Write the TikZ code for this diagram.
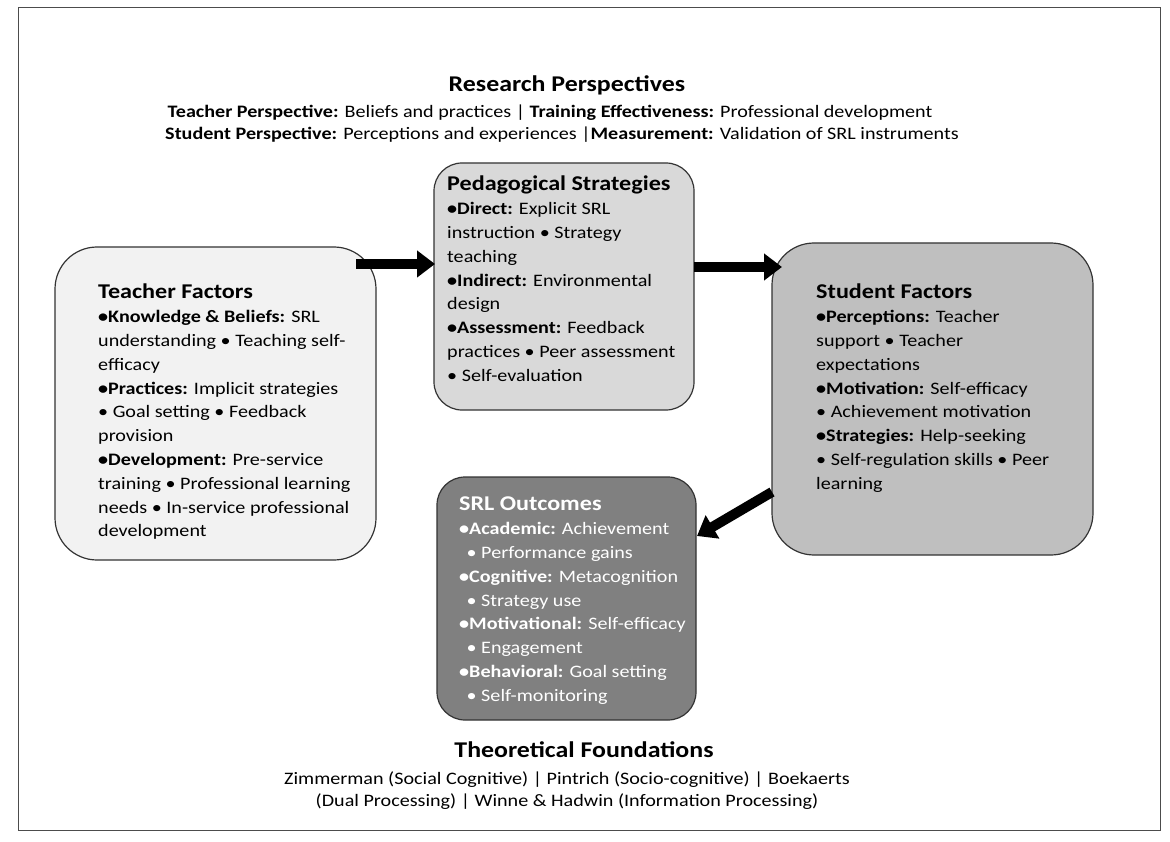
\documentclass[tikz,border=0pt]{standalone}
\usepackage{fontspec}
\setmainfont{Carlito}[FakeStretch=1.15]
\usetikzlibrary{arrows.meta}
\begin{document}
\begin{tikzpicture}[x=1pt,y=-1pt,
 box/.style={draw=black!80,line width=1.2pt,rounded corners=#1},
 txt/.style={anchor=north west,align=left,inner sep=0pt,font=\fontsize{17.5}{23.8}\selectfont},
 ttl/.style={font=\fontsize{22.5}{26}\selectfont\bfseries},
 arr/.style={-{Triangle[length=18pt,width=26pt]},line width=10pt}]
\useasboundingbox (0,0) rectangle (1170,842);
\draw[line width=1pt,black!70] (18,8) rectangle (1160,830);
\node[ttl] (rp) at (567,85) {Research Perspectives};
\node[font=\fontsize{17.5}{20}\selectfont] (rp1) at (550,113) {\textbf{Teacher Perspective:} Beliefs and practices | \textbf{Training Effectiveness:} Professional development};
\node[font=\fontsize{17.5}{20}\selectfont] (rp2) at (562,135) {\textbf{Student Perspective:} Perceptions and experiences |\textbf{Measurement:} Validation of SRL instruments};
\filldraw[box=42pt,fill=black!5] (55,247) rectangle (376,560);
\filldraw[box=28pt,fill=black!15] (434,163) rectangle (694,410);
\filldraw[box=42pt,fill=black!25] (772,243) rectangle (1093,555);
\filldraw[box=28pt,fill=black!50] (437,477) rectangle (696,720);
\node[txt] (tf) at (98,284) {{\fontsize{21}{24}\selectfont\bfseries Teacher Factors}\\
\textbf{•Knowledge \& Beliefs:} SRL\\understanding • Teaching self-\\efficacy\\
\textbf{•Practices:} Implicit strategies\\• Goal setting • Feedback\\provision\\
\textbf{•Development:} Pre-service\\training • Professional learning\\needs • In-service professional\\development};
\node[txt] (ps) at (447,176) {{\fontsize{21}{24}\selectfont\bfseries Pedagogical Strategies}\\
\textbf{•Direct:} Explicit SRL\\instruction • Strategy\\teaching\\
\textbf{•Indirect:} Environmental\\design\\
\textbf{•Assessment:} Feedback\\practices • Peer assessment\\• Self-evaluation};
\node[txt] (sf) at (816,284) {{\fontsize{21}{24}\selectfont\bfseries Student Factors}\\
\textbf{•Perceptions:} Teacher\\support • Teacher\\expectations\\
\textbf{•Motivation:} Self-efficacy\\• Achievement motivation\\
\textbf{•Strategies:} Help-seeking\\• Self-regulation skills • Peer\\learning};
\node[txt,text=white] (so) at (459,497) {{\fontsize{21}{24}\selectfont\bfseries SRL Outcomes}\\
\textbf{•Academic:} Achievement\\\ \,• Performance gains\\
\textbf{•Cognitive:} Metacognition\\\ \,• Strategy use\\
\textbf{•Motivational:} Self-efficacy\\\ \,• Engagement\\
\textbf{•Behavioral:} Goal setting\\\ \,• Self-monitoring};
\coordinate (a1s) at (356,264); \coordinate (a1e) at (435,264);
\coordinate (a2s) at (694,267); \coordinate (a2e) at (782,267);
\coordinate (a3s) at (772,492); \coordinate (a3e) at (697,536);
\draw[arr] (a1s) -- (a1e);
\draw[arr] (a2s) -- (a2e);
\draw[arr] (a3s) -- (a3e);
\node[ttl] (tfd) at (584,750) {Theoretical Foundations};
\node[font=\fontsize{17.5}{22}\selectfont,align=center] (tfl) at (567,791) {Zimmerman (Social Cognitive) | Pintrich (Socio-cognitive) | Boekaerts\\(Dual Processing) | Winne \& Hadwin (Information Processing)};
\end{tikzpicture}
\end{document}
